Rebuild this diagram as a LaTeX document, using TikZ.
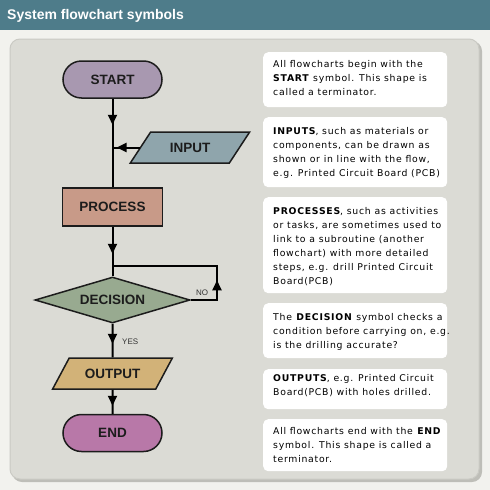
\documentclass[tikz,border=0pt]{standalone}
\usepackage{fontspec}
\setmainfont{Liberation Sans}
\newfontfamily\boxfont[LetterSpace=8]{DejaVu Sans}
\usetikzlibrary{shapes.geometric,shapes.misc,arrows.meta,decorations.markings}
\definecolor{hdr}{HTML}{4E7C8A}
\definecolor{outerbg}{HTML}{F2F2EE}
\definecolor{panel}{HTML}{DBDBD5}
\definecolor{panelshadow}{HTML}{BEBEB8}
\definecolor{paneledge}{HTML}{CACAC4}
\definecolor{startc}{HTML}{A898B0}
\definecolor{inc}{HTML}{8FA5AC}
\definecolor{procc}{HTML}{C89A88}
\definecolor{decc}{HTML}{98AA90}
\definecolor{outc}{HTML}{D2B278}
\definecolor{endc}{HTML}{B878A8}
\definecolor{ink}{HTML}{1C1C1C}
\begin{document}
\begin{tikzpicture}[x=1pt,y=-1pt,
  shapebase/.style={draw=ink, line width=1.5pt, text=ink, inner sep=0pt,
    font=\fontsize{13.5}{15}\selectfont\bfseries},
  term/.style={shapebase, rounded rectangle, minimum width=99pt, minimum height=37pt},
  procbox/.style={shapebase, rectangle, fill=procc, minimum width=100pt, minimum height=38pt},
  iobox/.style={shapebase, trapezium, trapezium left angle=42, trapezium right angle=138,
    trapezium stretches=true, minimum width=120pt, minimum height=31pt},
  decbox/.style={shapebase, diamond, fill=decc, shape aspect=3.37, minimum width=155pt, minimum height=46pt},
  flow/.style={draw=black, line width=2pt},
  midarrow/.style={postaction={decorate}, decoration={markings,
    mark=at position #1 with {\arrow{Triangle[width=9pt,length=10pt]}}}},
  infobox/.style={fill=white, draw=none, rounded corners=5pt, inner sep=0pt,
    minimum width=184pt, anchor=north west},
  txt/.style={anchor=base west, inner sep=0pt, text=black, font=\boxfont\fontsize{9.3}{10}\selectfont},
  lbl/.style={anchor=base west, inner sep=0pt, text=black!80, font=\fontsize{8}{9}\selectfont}
]
\useasboundingbox (0,0) rectangle (490,490);
\fill[outerbg] (0,0) rectangle (490,490);
\fill[hdr] (0,0) rectangle (490,30);
\node[anchor=base west, inner sep=0pt, text=white, font=\fontsize{14}{16}\selectfont\bfseries] (title) at (7,19.5) {System flowchart symbols};
% panel
\fill[panelshadow, rounded corners=10pt] (12,41) rectangle (482,482);
\draw[fill=panel, draw=paneledge, line width=1pt, rounded corners=10pt] (10,39) rectangle (479,479);
% info boxes
\node[infobox, minimum height=55pt] (b1) at (263,52) {};
\node[infobox, minimum height=70pt] (b2) at (263,117) {};
\node[infobox, minimum height=96pt] (b3) at (263,197) {};
\node[infobox, minimum height=55pt] (b4) at (263,303) {};
\node[infobox, minimum height=40pt] (b5) at (263,369) {};
\node[infobox, minimum height=52pt] (b6) at (263,419) {};
% texts
\node[txt] (t1a) at (273,67) {All flowcharts begin with the};
\node[txt] (t1b) at (273,81) {\textbf{START} symbol. This shape is};
\node[txt] (t1c) at (273,95) {called a terminator.};
\node[txt] (t2a) at (273,134) {\textbf{INPUTS}, such as materials or};
\node[txt] (t2b) at (273,148) {components, can be drawn as};
\node[txt] (t2c) at (273,162) {shown or in line with the flow,};
\node[txt] (t2d) at (273,176) {e.g. Printed Circuit Board (PCB)};
\node[txt] (t3a) at (273,214) {\textbf{PROCESSES}, such as activities};
\node[txt] (t3b) at (273,228) {or tasks, are sometimes used to};
\node[txt] (t3c) at (273,242) {link to a subroutine (another};
\node[txt] (t3d) at (273,256) {flowchart) with more detailed};
\node[txt] (t3e) at (273,270) {steps, e.g. drill Printed Circuit};
\node[txt] (t3f) at (273,284) {Board(PCB)};
\node[txt] (t4a) at (273,320) {The \textbf{DECISION} symbol checks a};
\node[txt] (t4b) at (273,334) {condition before carrying on, e.g.};
\node[txt] (t4c) at (273,348) {is the drilling accurate?};
\node[txt] (t5a) at (273,381) {\textbf{OUTPUTS}, e.g. Printed Circuit};
\node[txt] (t5b) at (273,395) {Board(PCB) with holes drilled.};
\node[txt] (t6a) at (273,434) {All flowcharts end with the \textbf{END}};
\node[txt] (t6b) at (273,448) {symbol. This shape is called a};
\node[txt] (t6c) at (273,462) {terminator.};
% flowchart shapes
\node[term, fill=startc] (start) at (112.5,79.5) {START};
\node[iobox, fill=inc] (in) at (190,147.5) {INPUT};
\node[procbox] (proc) at (112.5,207) {PROCESS};
\node[decbox] (dec) at (112.5,300) {DECISION};
\node[iobox, fill=outc] (out) at (112.5,373.5) {OUTPUT};
\node[term, fill=endc] (stop) at (112.5,433) {END};
% junction coordinates
\coordinate (j1) at (start.south |- in.west);
\coordinate (l1) at (217,300);
\coordinate (l2) at (217,266);
\coordinate (j2) at (112.5,266);
% connectors
\draw[flow, midarrow=26pt] (start.south) -- (proc.north);
\draw[flow, midarrow=23pt] (in.west) -- (j1);
\draw[flow, midarrow=27pt] (proc.south) -- (dec.north);
\draw[flow, line join=miter, midarrow=46pt] (dec.east) -- (l1) -- (l2) -- (j2);
\draw[flow, midarrow=20pt] (dec.south) -- (out.north);
\draw[flow, midarrow=16pt] (out.south) -- (stop.north);
% labels
\node[lbl] (no) at (196,295.5) {NO};
\node[lbl] (yes) at (122,344.5) {YES};
\end{tikzpicture}
\end{document}
